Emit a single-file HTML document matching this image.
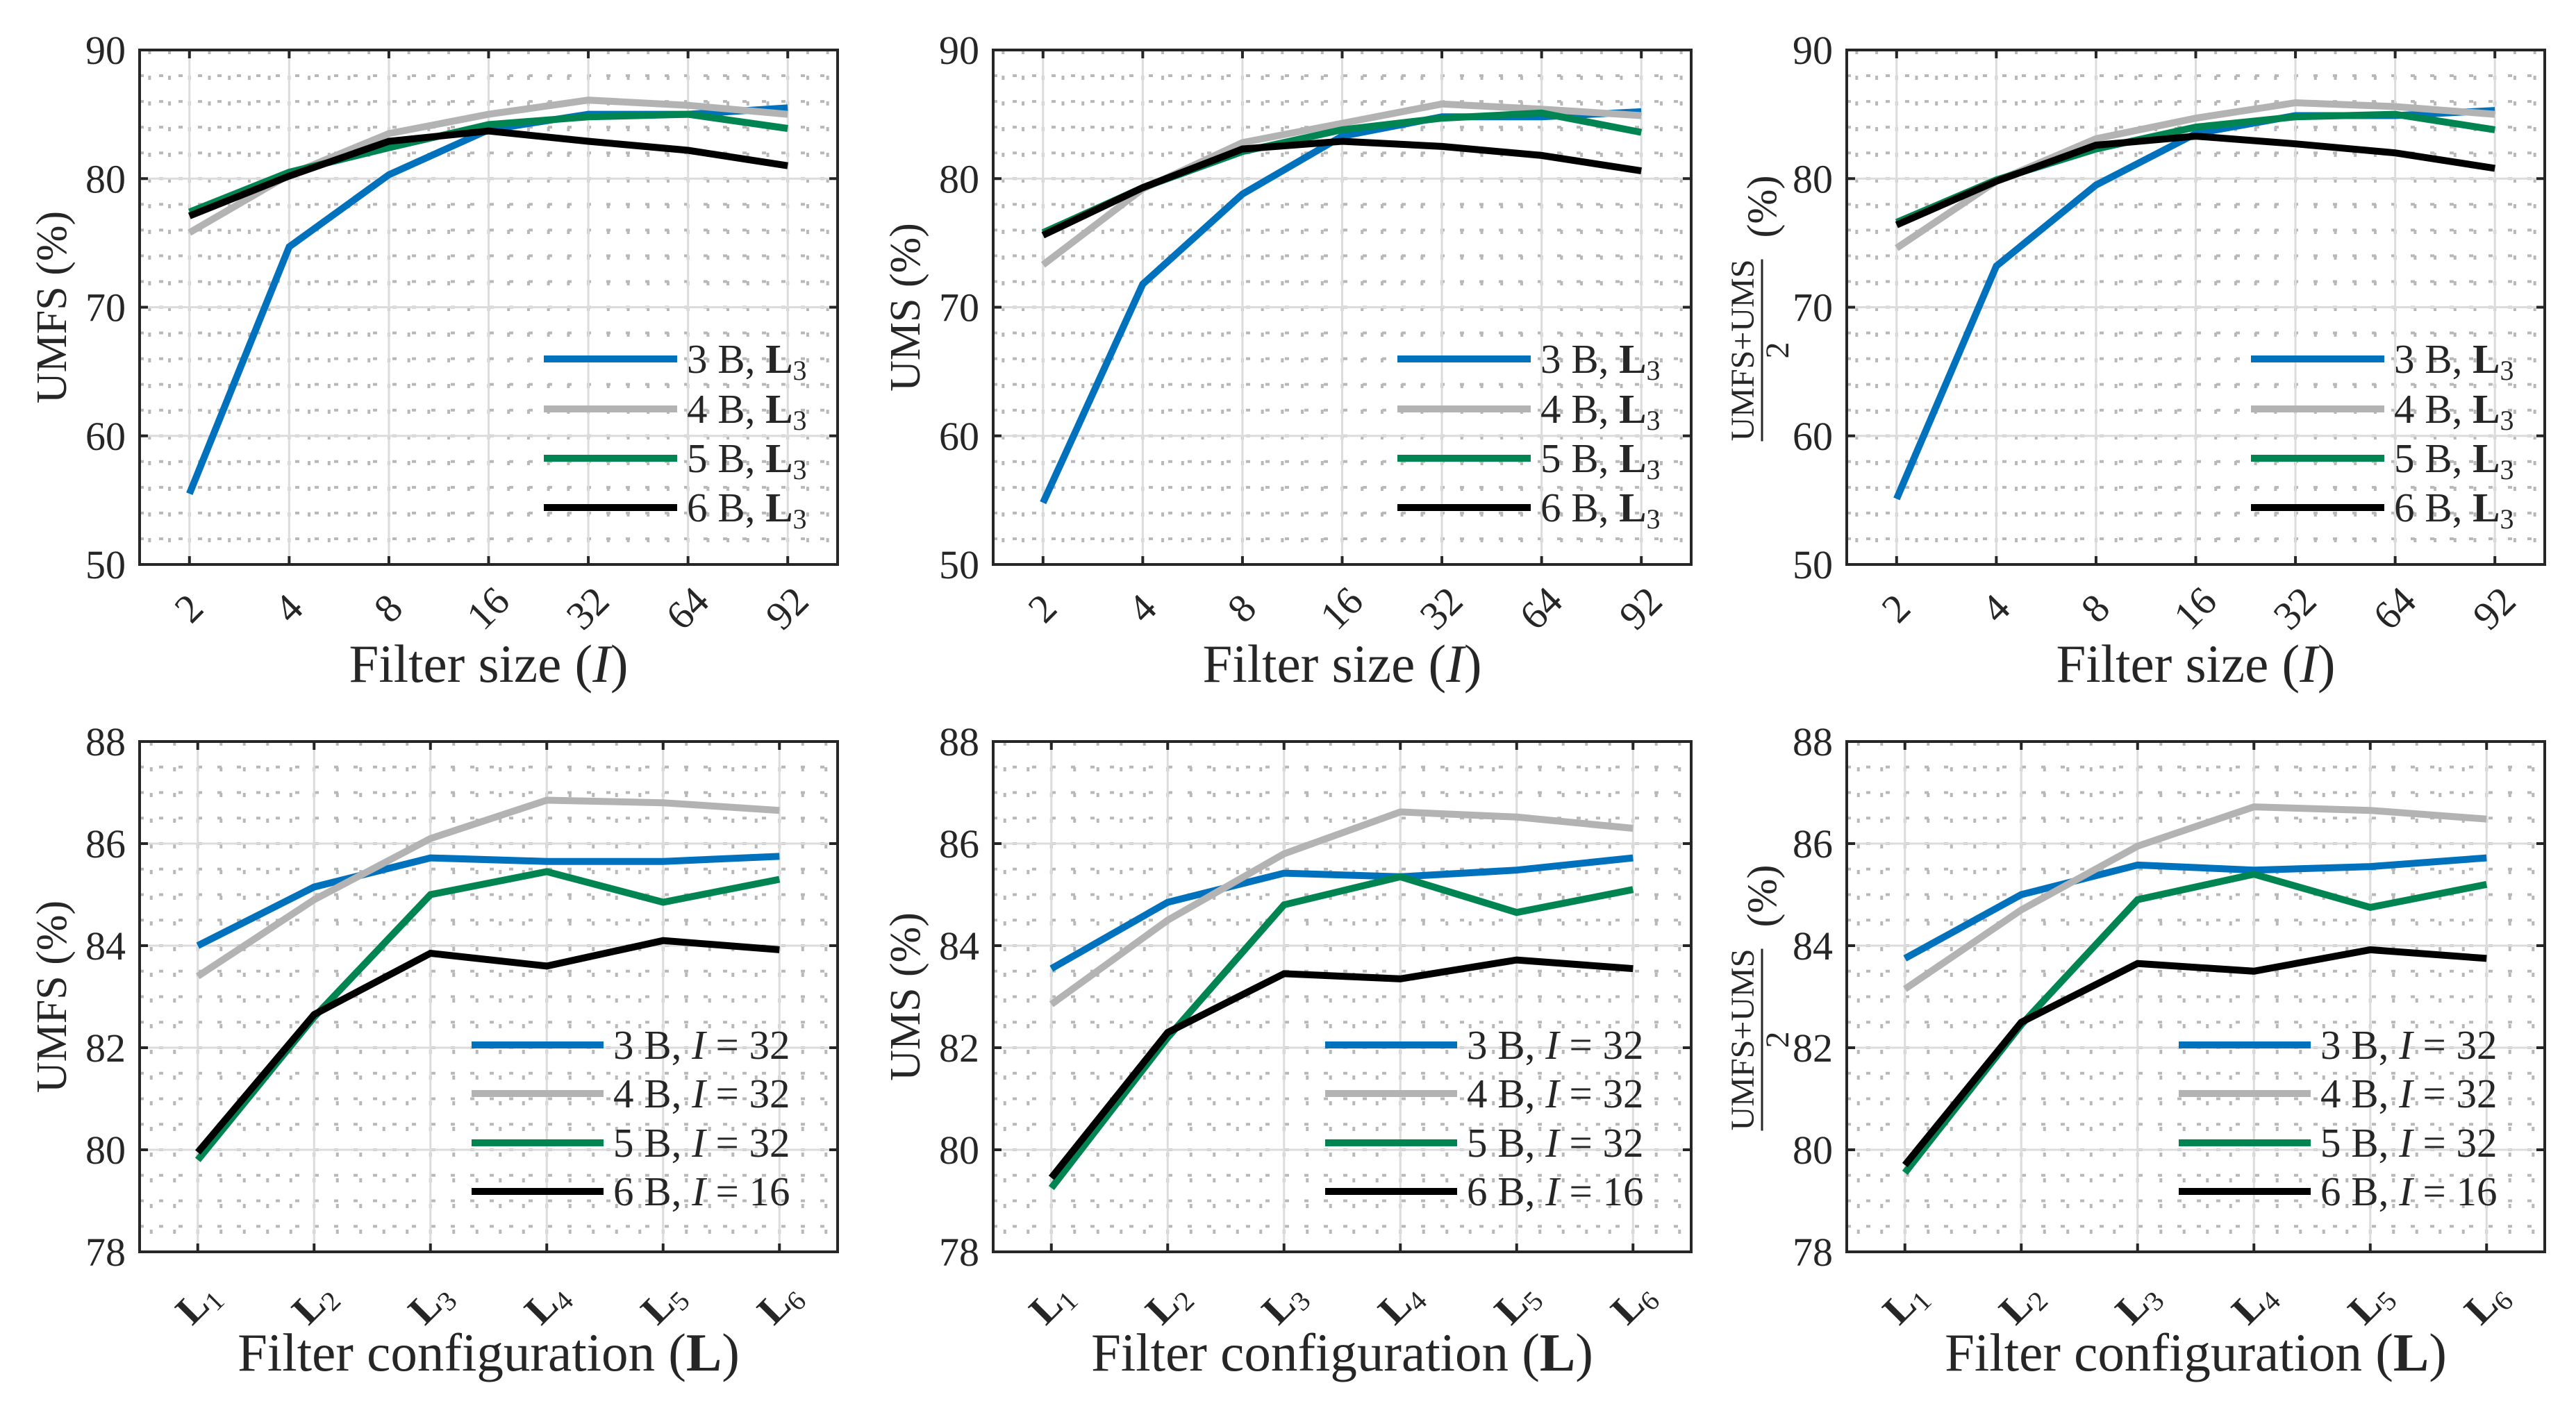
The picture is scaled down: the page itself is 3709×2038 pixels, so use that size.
<!DOCTYPE html>
<html><head><meta charset="utf-8"><style>
html,body{margin:0;padding:0;background:#fff}
svg{display:block}
text{font-family:"Liberation Serif",serif;fill:#262626}
</style></head><body>
<svg id="chart" xmlns="http://www.w3.org/2000/svg" width="3709" height="2038" viewBox="0 0 3709 2038"></svg>
<script>
const seriesNames = ["3 B", "4 B", "5 B", "6 B"];
const seriesColors = ["#0072BD", "#B3B3B3", "#008552", "#000000"];
const sizeCats = ["2", "4", "8", "16", "32", "64", "92"];
const confCats = ["1", "2", "3", "4", "5", "6"];
const topTicks = [50, 60, 70, 80, 90];
const botTicks = [78, 80, 82, 84, 86, 88];
const botLegendI = ["32", "32", "32", "16"];

const umfsSize3 = [55.5, 74.7, 80.3, 83.8, 85.0, 85.0, 85.5];
const umfsSize4 = [75.8, 80.3, 83.5, 85.0, 86.1, 85.7, 85.0];
const umfsSize5 = [77.4, 80.5, 82.4, 84.2, 84.8, 85.0, 83.9];
const umfsSize6 = [77.1, 80.2, 82.9, 83.7, 82.9, 82.2, 81.0];

const umsSize3 = [54.8, 71.8, 78.8, 83.3, 84.8, 84.8, 85.2];
const umsSize4 = [73.3, 79.2, 82.8, 84.3, 85.8, 85.4, 84.9];
const umsSize5 = [75.8, 79.3, 82.1, 83.8, 84.7, 85.1, 83.6];
const umsSize6 = [75.6, 79.3, 82.3, 82.9, 82.5, 81.8, 80.6];

const avgSize3 = [55.1, 73.2, 79.5, 83.5, 84.9, 84.9, 85.3];
const avgSize4 = [74.6, 79.8, 83.1, 84.7, 85.9, 85.6, 85.0];
const avgSize5 = [76.6, 79.9, 82.3, 84.0, 84.8, 85.0, 83.8];
const avgSize6 = [76.4, 79.8, 82.6, 83.3, 82.7, 82.0, 80.8];

const umfsConf3 = [84.0, 85.15, 85.72, 85.65, 85.65, 85.75];
const umfsConf4 = [83.4, 84.9, 86.1, 86.85, 86.8, 86.65];
const umfsConf5 = [79.8, 82.6, 85.0, 85.45, 84.85, 85.3];
const umfsConf6 = [79.95, 82.65, 83.85, 83.6, 84.1, 83.92];

const umsConf3 = [83.55, 84.85, 85.42, 85.35, 85.48, 85.72];
const umsConf4 = [82.85, 84.5, 85.8, 86.62, 86.52, 86.3];
const umsConf5 = [79.25, 82.2, 84.8, 85.35, 84.65, 85.1];
const umsConf6 = [79.45, 82.3, 83.45, 83.35, 83.72, 83.55];

const avgConf3 = [83.75, 85.0, 85.58, 85.48, 85.55, 85.72];
const avgConf4 = [83.15, 84.7, 85.95, 86.72, 86.65, 86.48];
const avgConf5 = [79.55, 82.45, 84.9, 85.4, 84.75, 85.2];
const avgConf6 = [79.7, 82.5, 83.65, 83.5, 83.92, 83.75];

const NS = "http://www.w3.org/2000/svg";
const svg = document.getElementById("chart");
function mk(tag, attrs, parent) {
  const e = document.createElementNS(NS, tag);
  for (const k in attrs) e.setAttribute(k, attrs[k]);
  (parent || svg).appendChild(e);
  return e;
}
function tspan(parent, txt, attrs) {
  const t = document.createElementNS(NS, "tspan");
  for (const k in (attrs || {})) t.setAttribute(k, attrs[k]);
  t.textContent = txt;
  parent.appendChild(t);
  return t;
}

const W = 1005;
const panelLefts = [201, 1430, 2659];

function drawPanel(cfg) {
  const g = mk("g", {});
  
  
  const L = cfg.left, T = cfg.top, B = cfg.bottom, R = L + W;
  const n = cfg.cats.length;
  const xS = i => L + (i + 0.5) * W / n;
  const yS = v => B - (v - cfg.ymin) / (cfg.ymax - cfg.ymin) * (B - T);
  for (let v = cfg.ymin; v <= cfg.ymax + 1e-9; v += cfg.minorY) {
    const y = yS(v);
    const ln = mk("line", {x1: L, x2: R, y1: y, y2: y, stroke: "#b8b8b8", "stroke-width": 4, "stroke-dasharray": "6 22"}, g);
    
    
  }
  const step = W / n, mstep = step / cfg.minorPer;
  for (let x = L + step * 0.5 - Math.floor(step * 0.5 / mstep) * mstep; x <= R; x += mstep) {
    const ln = mk("line", {x1: x, x2: x, y1: T, y2: B, stroke: "#b8b8b8", "stroke-width": 4, "stroke-dasharray": "6 31"}, g);
    
    
  }
  cfg.yticks.forEach(v => {
    const y = yS(v);
    const ln = mk("line", {x1: L, x2: R, y1: y, y2: y, stroke: "#dcdcdc", "stroke-width": 3}, g);
    
    
  });
  cfg.cats.forEach((c, i) => {
    const x = xS(i);
    const ln = mk("line", {x1: x, x2: x, y1: T, y2: B, stroke: "#dcdcdc", "stroke-width": 3}, g);
    
    
  });
  cfg.series.forEach((vals, s) => {
    const pts = vals.map((v, i) => xS(i).toFixed(1) + "," + yS(v).toFixed(1)).join(" ");
    const pl = mk("polyline", {points: pts, fill: "none", stroke: seriesColors[s], "stroke-width": 10, "stroke-linejoin": "miter"}, g);
    
    
  });
  const box = mk("rect", {x: L, y: T, width: W, height: B - T, fill: "none", stroke: "#262626", "stroke-width": 4}, g);
  
  
  cfg.yticks.forEach(v => {
    const y = yS(v);
    mk("line", {x1: L, x2: L + 12, y1: y, y2: y, stroke: "#262626", "stroke-width": 4}, g);
    mk("line", {x1: R, x2: R - 12, y1: y, y2: y, stroke: "#262626", "stroke-width": 4}, g);
    const t = mk("text", {x: L - 20, y: y + 20, "text-anchor": "end", "font-size": 58}, g);
    t.textContent = v;
    
    
  });
  cfg.cats.forEach((c, i) => {
    const x = xS(i);
    mk("line", {x1: x, x2: x, y1: B, y2: B - 12, stroke: "#262626", "stroke-width": 4}, g);
    mk("line", {x1: x, x2: x, y1: T, y2: T + 12, stroke: "#262626", "stroke-width": 4}, g);
    const cy = B + cfg.xlabOff;
    const t = mk("text", {x: x, y: cy + 18, "text-anchor": "middle", "font-size": 58, transform: `rotate(-45 ${x} ${cy})`}, g);
    if (cfg.conf) {
      tspan(t, "L", {"font-weight": "bold"});
      tspan(t, c, {"font-size": 40, dy: 10});
    } else t.textContent = c;
    
    
  });
  const xt = mk("text", {x: L + W / 2, y: cfg.xtitleY, "text-anchor": "middle", "font-size": 77}, g);
  if (cfg.conf) {
    tspan(xt, "Filter configuration (");
    tspan(xt, "L", {"font-weight": "bold"});
    tspan(xt, ")");
  } else {
    tspan(xt, "Filter size (");
    tspan(xt, "I", {"font-style": "italic"});
    tspan(xt, ")");
  }
  
  
  const cy = (T + B) / 2;
  if (cfg.ytitle === "avg") {
    const yg = mk("g", {}, g);
    
    
    const fx = L - 134;
    const nt = mk("text", {x: 0, y: 0, "text-anchor": "middle", "font-size": 48, transform: `translate(${fx} ${cy + 62}) rotate(-90)`}, yg);
    nt.textContent = "UMFS+UMS";
    mk("line", {x1: fx + 12, x2: fx + 12, y1: cy + 62 - 131, y2: cy + 62 + 131, stroke: "#262626", "stroke-width": 3}, yg);
    const dt = mk("text", {x: 0, y: 0, "text-anchor": "middle", "font-size": 48, transform: `translate(${fx + 50} ${cy + 62}) rotate(-90)`}, yg);
    dt.textContent = "2";
    const pt = mk("text", {x: 0, y: 0, "text-anchor": "middle", "font-size": 60, transform: `translate(${fx + 32} ${cy - 145}) rotate(-90)`}, yg);
    pt.textContent = "(%)";
  } else {
    const yt = mk("text", {x: 0, y: 0, "text-anchor": "middle", "font-size": 62, transform: `translate(${L - 106} ${cy}) rotate(-90)`}, g);
    yt.textContent = cfg.ytitle + " (%)";
    
    
  }
  const lg = mk("g", {}, g);
  
  
  seriesNames.forEach((nm, s) => {
    const y = cfg.legY[s];
    const e = mk("g", {}, lg);
    
    
    mk("line", {x1: L + cfg.legX1, x2: L + cfg.legX2, y1: y, y2: y, stroke: seriesColors[s], "stroke-width": 10}, e);
    const t = mk("text", {x: L + cfg.legX2 + 14, y: y + 20, "font-size": 59}, e);
    tspan(t, nm + ", ");
    if (cfg.conf) {
      tspan(t, "I", {"font-style": "italic"});
      tspan(t, " = " + botLegendI[s]);
    } else {
      tspan(t, "L", {"font-weight": "bold"});
      tspan(t, "3", {"font-size": 40, dy: 10});
    }
  });
}

const topSeries = [
  [umfsSize3, umfsSize4, umfsSize5, umfsSize6],
  [umsSize3, umsSize4, umsSize5, umsSize6],
  [avgSize3, avgSize4, avgSize5, avgSize6]
];
const botSeries = [
  [umfsConf3, umfsConf4, umfsConf5, umfsConf6],
  [umsConf3, umsConf4, umsConf5, umsConf6],
  [avgConf3, avgConf4, avgConf5, avgConf6]
];
const titles = ["UMFS", "UMS", "avg"];
const names = ["umfs", "ums", "average"];
for (let p = 0; p < 3; p++) {
  drawPanel({name: names[p] + "-vs-filter-size-panel", left: panelLefts[p], top: 72, bottom: 813,
    ymin: 50, ymax: 90, minorY: 2, minorPer: 5, yticks: topTicks, cats: sizeCats,
    series: topSeries[p], conf: false, xlabOff: 64, xtitleY: 982, ytitle: titles[p],
    legY: [517, 589, 660, 731], legX1: 582, legX2: 774});
  drawPanel({name: names[p] + "-vs-filter-config-panel", left: panelLefts[p], top: 1068, bottom: 1803,
    ymin: 78, ymax: 88, minorY: 0.5, minorPer: 5, yticks: botTicks, cats: confCats,
    series: botSeries[p], conf: true, xlabOff: 74, xtitleY: 1974, ytitle: titles[p],
    legY: [1505, 1575, 1646, 1716], legX1: 478, legX2: 668});
}
</script>
</body></html>
